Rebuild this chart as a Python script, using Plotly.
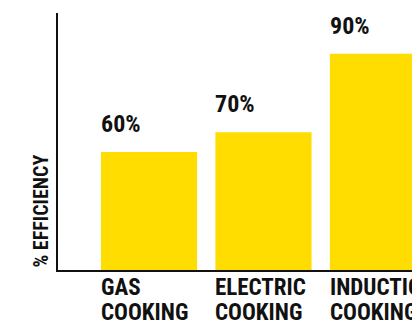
import plotly.graph_objects as go

# Data
categories = ["GAS", "ELECTRIC", "INDUCTION"]
category_suffix = ["COOKING", "COOKING", "COOKING"]
efficiency_labels = ["60%", "70%", "90%"]
bar_heights = [60, 70, 110]   # drawn heights, as measured on the picture

BAR_W = 0.84
FONT = "Roboto Condensed, Roboto, sans-serif"
YELLOW = "#FFDD00"
INK = "#111111"

x_idx = list(range(len(categories)))

fig = go.Figure(go.Bar(
    x=x_idx, y=bar_heights, width=BAR_W,
    marker=dict(color=YELLOW, line=dict(width=0)),
    hoverinfo="skip",
))

annotations = []
for i, (cat, suf, lab, h) in enumerate(zip(categories, category_suffix, efficiency_labels, bar_heights)):
    annotations.append(dict(
        x=i - BAR_W / 2, y=h, xref="x", yref="y",
        text=lab, showarrow=False, xanchor="left", yanchor="bottom",
        xshift=-2, yshift=12, font=dict(family=FONT, size=24, color=INK, weight="bold"),
    ))
    for j, line in enumerate([cat, suf]):
        annotations.append(dict(
            x=i - BAR_W / 2, y=0, xref="x", yref="y",
            text=line, showarrow=False, xanchor="left", yanchor="top", align="left",
            xshift=-2, yshift=-2 - 25 * j,
            font=dict(family=FONT, size=23, color=INK, weight="bold"),
        ))
annotations.append(dict(
    x=0, y=0, xref="paper", yref="paper", text="% EFFICIENCY",
    textangle=-90, showarrow=False, xanchor="right", yanchor="bottom",
    xshift=-4, yshift=0,
    font=dict(family=FONT, size=20, color=INK, weight="bold"),
))

# page body has an 8px margin, so the figure is drawn 8px smaller
fig.update_layout(
    width=412, height=313,
    margin=dict(l=50, r=0, t=5, b=51),
    paper_bgcolor="white", plot_bgcolor="white",
    showlegend=False,
    annotations=annotations,
    xaxis=dict(range=[-0.795, 2.367], showticklabels=False, ticks="",
               showgrid=False, zeroline=False, showline=True,
               linecolor=INK, linewidth=1.5),
    yaxis=dict(range=[0, 130.7], showticklabels=False, ticks="",
               showgrid=False, zeroline=False, showline=True,
               linecolor=INK, linewidth=1.5),
)

fig.write_html("out.html")
